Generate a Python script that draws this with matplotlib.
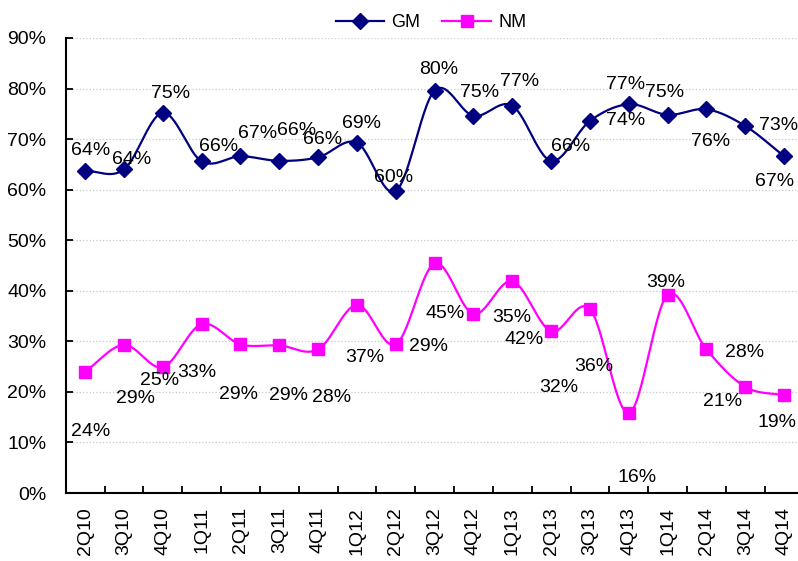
import numpy as np
import matplotlib

matplotlib.use("Agg")
import matplotlib.pyplot as plt
from matplotlib.lines import Line2D

plt.rcParams["font.family"] = ["Liberation Sans", "DejaVu Sans"]

QUARTERS = ["2Q10", "3Q10", "4Q10", "1Q11", "2Q11", "3Q11", "4Q11", "1Q12", "2Q12",
            "3Q12", "4Q12", "1Q13", "2Q13", "3Q13", "4Q13", "1Q14", "2Q14", "3Q14", "4Q14"]
GM = [63.7, 64.0, 75.2, 65.6, 66.6, 65.7, 66.4, 69.3, 59.7, 79.6,
      74.6, 76.6, 65.7, 73.6, 76.9, 74.8, 75.9, 72.6, 66.6]
NM = [24.0, 29.3, 24.9, 33.4, 29.4, 29.2, 28.4, 37.2, 29.4, 45.4,
      35.4, 41.9, 32.0, 36.4, 15.8, 39.2, 28.4, 21.0, 19.3]

# label placement (pixels, dx right / dy down), as moved by hand in the original
GM_OFF = [(6, -20), (8, -10), (8, -19), (17, -15), (17, -23), (17, -30), (4, -18), (5, -19),
          (-2, -14), (4, -21), (6, -23), (7, -24), (19, -14), (36, 0), (-3, -20), (-3, -22),
          (4, 32), (33, 0), (-10, 25)]
NM_OFF = [(6, 60), (12, 54), (-3, 13), (-5, 48), (-2, 50), (9, 50), (13, 48), (8, 53),
          (33, 2), (11, 50), (38, 3), (12, 58), (8, 56), (4, 58), (8, 64), (-2, -12),
          (38, 3), (-23, 15), (-7, 27)]

C_GM = "#000080"
C_NM = "#FF00FF"


def smooth(x, y, n=30):
    """Catmull-Rom curve through the points (like Excel's smoothed line)."""
    x = np.asarray(x, float)
    y = np.asarray(y, float)
    px = np.concatenate([[2 * x[0] - x[1]], x, [2 * x[-1] - x[-2]]])
    py = np.concatenate([[2 * y[0] - y[1]], y, [2 * y[-1] - y[-2]]])
    t = np.linspace(0, 1, n)[:, None]
    xs, ys = [], []
    for i in range(1, len(px) - 2):
        for p, out in ((px, xs), (py, ys)):
            p0, p1, p2, p3 = p[i - 1], p[i], p[i + 1], p[i + 2]
            seg = 0.5 * ((2 * p1) + (-p0 + p2) * t + (2 * p0 - 5 * p1 + 4 * p2 - p3) * t ** 2
                         + (-p0 + 3 * p1 - 3 * p2 + p3) * t ** 3)
            out.append(seg.ravel())
    return np.concatenate(xs), np.concatenate(ys)


fig = plt.figure(figsize=(7.98, 5.61), dpi=100)
ax = fig.add_axes([65.7 / 798, 68 / 561, 737.8 / 798, 455 / 561])

x = np.arange(len(QUARTERS))
for vals, col, mk, ms, offs in [(GM, C_GM, "D", 8, GM_OFF), (NM, C_NM, "s", 8, NM_OFF)]:
    sx, sy = smooth(x, vals)
    ax.plot(sx, sy, color=col, lw=1.6, zorder=3, clip_on=False)
    ax.plot(x, vals, ls="none", marker=mk, ms=ms, color=col, zorder=4, clip_on=False)
    for xi, v, (dx, dy) in zip(x, vals, offs):
        ax.annotate(f"{v:.0f}%", (xi, v), textcoords="offset pixels", xytext=(dx, -dy),
                    ha="center", va="center", fontsize=14, color="black", zorder=5,
                    annotation_clip=False)

ax.set_xlim(-0.5, len(QUARTERS) - 0.5)
ax.set_ylim(0, 90)
ax.set_yticks(np.arange(0, 91, 10))
ax.set_yticklabels([f"{v}%" for v in range(0, 91, 10)], fontsize=14)
ax.set_xticks(x)
ax.set_xticklabels(QUARTERS, rotation=90, fontsize=14)
ax.set_xticks(np.arange(0.5, len(QUARTERS) - 0.5, 1), minor=True)
ax.tick_params(axis="x", which="major", length=0, pad=10)
ax.tick_params(axis="x", which="minor", direction="in", length=5, width=1.3)
ax.tick_params(axis="y", direction="in", length=5, width=1.3, pad=14)

ax.grid(axis="y", color="#C8C8C8", ls=":", lw=0.9)
ax.set_axisbelow(True)
for s in ("top", "right"):
    ax.spines[s].set_visible(False)
for s in ("left", "bottom"):
    ax.spines[s].set_linewidth(1.5)

handles = [Line2D([], [], color=C_GM, lw=1.6, marker="D", ms=8),
           Line2D([], [], color=C_NM, lw=1.6, marker="s", ms=8)]
fig.legend(handles, ["GM", "NM"], loc="upper center", bbox_to_anchor=(431 / 798, 1.0),
           ncol=2, fontsize=13, frameon=True, facecolor="white", edgecolor="white",
           framealpha=1, handlelength=2.7, handletextpad=0.4, columnspacing=1.2,
           borderpad=0.3)

fig.savefig("out.png", dpi=100)
